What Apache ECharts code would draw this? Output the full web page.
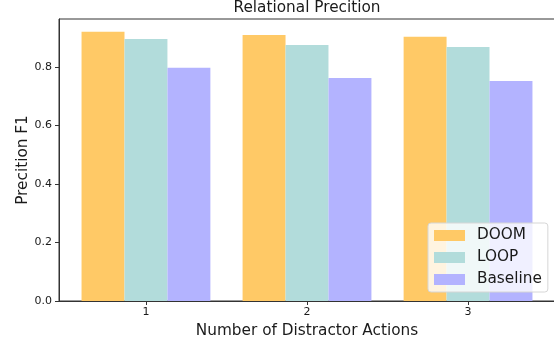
<!DOCTYPE html>
<html lang="en" style="height: 100%">
<head>
  <meta charset="utf-8">
</head>
<body style="height: 100%; margin: 0">
  <div id="container" style="width: 554px; height: 343px"></div>

  <script type="text/javascript" src="https://fastly.jsdelivr.net/npm/echarts@6/dist/echarts.min.js"></script>
  <script type="text/javascript">
    // number of distractor actions
    var categories = ['1', '2', '3'];
    var seriesNames = ['DOOM', 'LOOP', 'Baseline'];
    var doom = [0.920, 0.909, 0.903];
    var loop = [0.896, 0.875, 0.868];
    var baseline = [0.797, 0.762, 0.752];
    var yTicks = [0.0, 0.2, 0.4, 0.6, 0.8];

    var dom = document.getElementById('container');
    var myChart = echarts.init(dom, null, { renderer: 'canvas' });

    var font = 'DejaVu Sans';
    var ink = '#1a1a1a';

    function toPoints(vals) {
      return vals.map(function (v, i) { return [i, v]; });
    }

    var option = {
      animation: false,
      textStyle: { fontFamily: font, color: ink },
      title: {
        text: 'Relational Precition',
        left: 307,
        top: 1,
        padding: 0,
        textAlign: 'center',
        textStyle: { fontFamily: font, fontSize: 15.3, fontWeight: 'normal', color: ink }
      },
      legend: {
        orient: 'vertical',
        left: 428,
        top: 223,
        padding: [5, 6, 5, 6],
        itemWidth: 31,
        itemHeight: 11,
        itemGap: 7,
        icon: 'rect',
        backgroundColor: 'rgba(255,255,255,0.8)',
        borderColor: '#d6d6d6',
        borderWidth: 1,
        borderRadius: 3,
        textStyle: { fontFamily: font, fontSize: 15.3, lineHeight: 15, color: ink, padding: [0, 0, 0, 7] },
        data: seriesNames
      },
      grid: {
        left: 59,
        top: 19,
        bottom: 42,
        width: 496,
        outerBoundsMode: 'none',
        show: true,
        borderColor: '#333',
        borderWidth: 1
      },
      xAxis: {
        type: 'value',
        min: -0.54,
        max: 2.54,
        name: 'Number of Distractor Actions',
        nameLocation: 'middle',
        nameGap: 23,
        nameMoveOverlap: false,
        nameTextStyle: { fontFamily: font, fontSize: 15.3, color: ink },
        axisLine: { show: true, onZero: false, lineStyle: { color: '#333', width: 1 } },
        axisTick: { show: true, length: 4, customValues: [0, 1, 2], lineStyle: { color: '#333' } },
        axisLabel: {
          customValues: [0, 1, 2],
          margin: 6,
          fontFamily: font,
          fontSize: 11,
          color: ink,
          formatter: function (v) { return categories[Math.round(v)]; }
        },
        splitLine: { show: false }
      },
      yAxis: {
        type: 'value',
        min: 0,
        max: 0.964,
        name: 'Precition F1',
        nameLocation: 'middle',
        nameGap: 28,
        nameMoveOverlap: false,
        nameTextStyle: { fontFamily: font, fontSize: 15.3, color: ink },
        axisLine: { show: true, onZero: false, lineStyle: { color: '#333', width: 1 } },
        axisTick: { show: true, length: 4, customValues: yTicks, lineStyle: { color: '#333' } },
        axisLabel: {
          customValues: yTicks,
          margin: 7,
          fontFamily: font,
          fontSize: 11,
          color: ink,
          formatter: function (v) { return v.toFixed(1); }
        },
        splitLine: { show: false }
      },
      series: [
        {
          name: 'DOOM', type: 'bar', barGap: '0%', barCategoryGap: '20%',
          itemStyle: { color: '#ffc966' },
          data: toPoints(doom)
        },
        {
          name: 'LOOP', type: 'bar', barGap: '0%', barCategoryGap: '20%',
          itemStyle: { color: '#b2dcdb' },
          data: toPoints(loop)
        },
        {
          name: 'Baseline', type: 'bar', barGap: '0%', barCategoryGap: '20%',
          itemStyle: { color: '#b3b3ff' },
          data: toPoints(baseline)
        }
      ]
    };

    myChart.setOption(option);
    window.addEventListener('resize', myChart.resize);
  </script>
</body>
</html>
